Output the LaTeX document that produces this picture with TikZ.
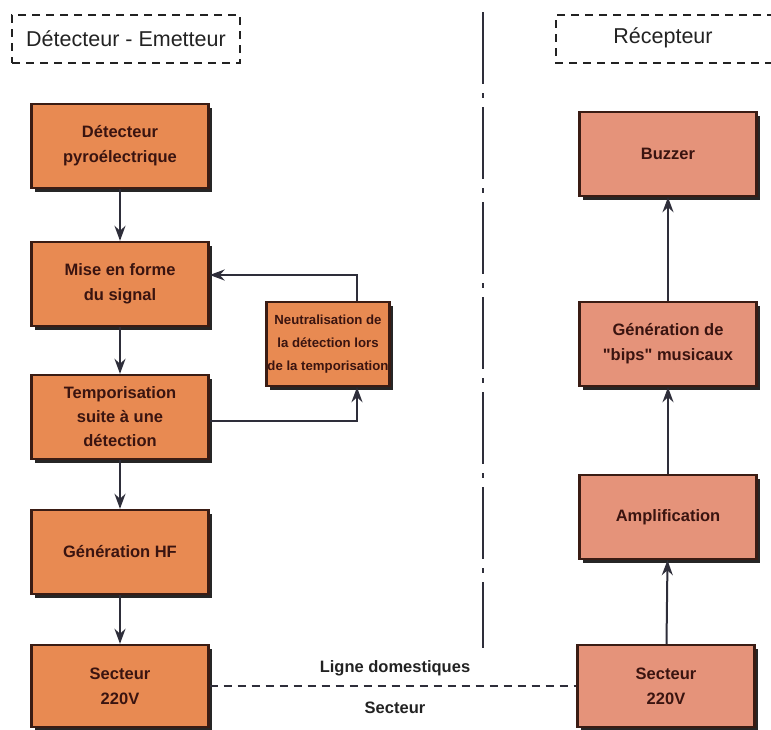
\documentclass[tikz,border=0pt]{standalone}
\usepackage{fontspec}
\setmainfont{Liberation Sans}
\newfontfamily\rawquote{Liberation Sans}[Ligatures=TeXOff]
\usetikzlibrary{shadows,arrows.meta}
\definecolor{boxL}{HTML}{E88A52}
\definecolor{boxR}{HTML}{E5937A}
\definecolor{bdr}{HTML}{3A1C14}
\definecolor{txt}{HTML}{3A1410}
\definecolor{lnk}{HTML}{2E2E3A}
\definecolor{hdrc}{HTML}{222222}
\begin{document}
\begin{tikzpicture}[x=1pt,y=-1pt,
  blk/.style={draw=bdr, line width=2.4pt, fill=boxL, text=txt, align=center,
    inner sep=2pt, minimum width=177pt, minimum height=84pt,
    font=\fontsize{16.5}{25}\selectfont\bfseries,
    drop shadow={shadow xshift=3.5pt, shadow yshift=-3.5pt, fill=black!85, opacity=1}},
  blkR/.style={blk, fill=boxR},
  arr/.style={draw=lnk, line width=2pt, -{Stealth[length=15pt,width=11pt]}},
  hdr/.style={draw=hdrc, line width=1.8pt, dash pattern=on 8pt off 6pt},
  hdtext/.style={text=hdrc, font=\fontsize{21.5}{25}\selectfont},
  lbl/.style={text=hdrc, font=\fontsize{16.5}{22}\selectfont\bfseries}
]
\useasboundingbox (0,0) rectangle (771,729);

% headers
\node[hdr, minimum width=228pt, minimum height=48pt, hdtext] (hdL) at (126,39) {Détecteur - Emetteur};
\coordinate (r1) at (775,15);
\coordinate (r2) at (556,15);
\coordinate (r3) at (556,63);
\coordinate (r4) at (775,63);
\draw[hdr] (r1) -- (r2) -- (r3) -- (r4);
\node[hdtext] (hdR) at (663,38) {Récepteur};

% separator
\coordinate (vtop) at (483,12);
\coordinate (vbot) at (483,648);
\draw[draw=lnk, line width=2pt, dash pattern=on 72pt off 9pt on 5pt off 9pt] (vtop) -- (vbot);

% left column
\node[blk] (det) at (120,146) {Détecteur\\pyroélectrique};
\node[blk] (mise) at (120,284) {Mise en forme\\du signal};
\node[blk, font=\fontsize{16.5}{24}\selectfont\bfseries] (tempo) at (120,417) {Temporisation\\suite à une\\détection};
\node[blk] (hf) at (120,552) {Génération HF};
\node[blk, minimum height=82pt] (sectL) at (120,686) {Secteur\\220V};

\node[blk, minimum width=119pt, font=\fontsize{13.2}{23}\selectfont\bfseries, inner sep=1pt] (neut) at (328,344) {Neutralisation de\\la détection lors\\de la temporisation};

% right column
\node[blkR] (buz) at (668,154) {Buzzer};
\node[blkR] (bips) at (668,344) {Génération de\\{\rawquote\bfseries "bips"} musicaux};
\node[blkR] (ampl) at (668,517) {Amplification};
\node[blkR, minimum height=82pt] (sectR) at (666,686) {Secteur\\220V};

% arrows left
\draw[arr] (det) -- (mise);
\draw[arr] (mise) -- (tempo);
\draw[arr] (tempo) -- (hf);
\draw[arr] (hf) -- (sectL);
\draw[arr] ([xshift=29pt]neut.north) |- ([yshift=9pt]mise.east);
\draw[arr] ([yshift=-4pt]tempo.east) -| ([xshift=29pt]neut.south);

% arrows right
\draw[arr] (sectR) -- (ampl);
\draw[arr] (ampl) -- (bips);
\draw[arr] (bips) -- (buz);

% mains link
\draw[draw=lnk, line width=2pt, dash pattern=on 8pt off 6pt] (sectL.east) -- (sectR.west);
\node[lbl] (lig) at (395,668) {Ligne domestiques};
\node[lbl] (sec) at (395,708) {Secteur};
\end{tikzpicture}
\end{document}
